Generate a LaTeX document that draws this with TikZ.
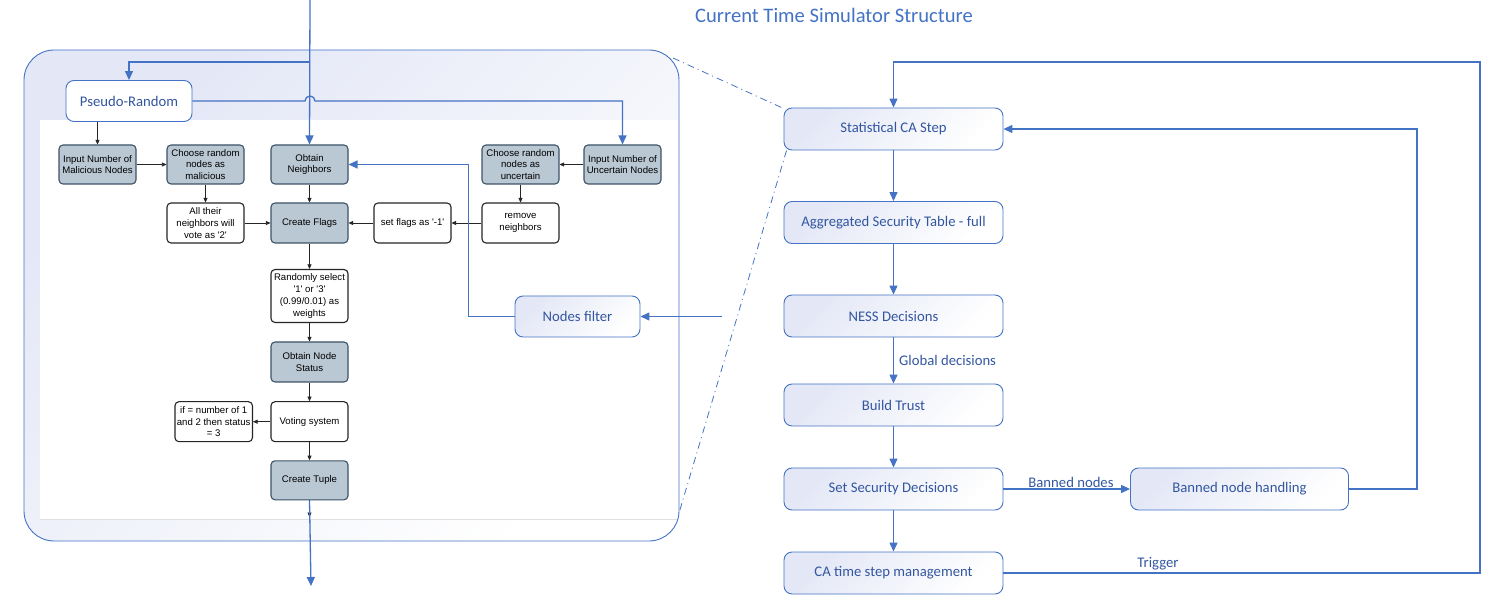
\documentclass[tikz,border=0pt]{standalone}
\usepackage{fontspec}
\usetikzlibrary{arrows.meta}
\newfontfamily\carl{Carlito}
\newfontfamily\lsans{Liberation Sans}
\definecolor{cblue}{HTML}{4472C4}
\definecolor{ctext}{HTML}{3356A0}
\definecolor{lav}{HTML}{E3E7F6}
\definecolor{gfill}{HTML}{BAC8D3}
\definecolor{gdraw}{HTML}{3D5366}
\newcommand{\sq}{\textquotesingle}
\tikzset{
  gnode/.style={draw=gdraw, fill=gfill, rounded corners=4pt, line width=1.1pt,
    minimum width=77pt, minimum height=39pt, align=center, inner sep=1pt,
    font=\lsans\fontsize{9.6}{11.7}\selectfont},
  wnode/.style={gnode, draw=black!85, fill=white},
  bnode/.style={draw=cblue, rounded corners=8pt, line width=0.9pt,
    top color=lav, bottom color=white, shading angle=45,
    minimum width=219pt, minimum height=42pt, text=ctext,
    font=\carl\fontsize{14.7}{17}\selectfont},
  barrow/.style={-{Triangle[length=9pt,width=8pt]}, draw=cblue, line width=1.3pt},
  karrow/.style={-{Triangle[length=4.5pt,width=4pt]}, draw=black!85, line width=0.6pt},
  ddline/.style={draw=cblue, line width=0.8pt, dash pattern=on 7pt off 4pt on 1pt off 4pt},
  lbl/.style={text=ctext, font=\carl\fontsize{14.7}{17}\selectfont, inner sep=0pt},
}
\begin{document}
\begin{tikzpicture}[x=1pt,y=-1pt]
\useasboundingbox (0,0) rectangle (1489,609);
% title
\node[anchor=base, text=cblue, font=\carl\fontsize{20.6}{24}\selectfont, inner sep=0pt] (title) at (834,23) {Current Time Simulator Structure};
% big panel
\shade[top color=lav, bottom color=white, shading angle=45, rounded corners=30pt] (24,50) rectangle (679,541);
\fill[white] (40,120) rectangle (678,519);
\draw[black!12, line width=0.6pt] (40,519) -- (678,519);
\draw[cblue, line width=0.9pt, rounded corners=30pt] (24,50) rectangle (679,541);
% left panel nodes
\node[bnode, minimum width=126pt, minimum height=41pt, top color=white, bottom color=white] (pr) at (129,101) {Pseudo-Random};
\node[gnode] (im) at (97.5,164.5) {Input Number of\\Malicious Nodes};
\node[gnode] (cm) at (205.5,164.5) {Choose random\\nodes as\\malicious};
\node[gnode] (on) at (309.5,164.5) {Obtain\\Neighbors};
\node[gnode] (cu) at (520.5,164.5) {Choose random\\nodes as\\uncertain};
\node[gnode] (iu) at (622.5,164.5) {Input Number of\\Uncertain Nodes};
\node[wnode, minimum height=40pt] (av) at (205.5,223) {All their\\neighbors will\\vote as \sq2\sq};
\node[gnode, minimum height=40pt] (cf) at (309.5,223) {Create Flags};
\node[wnode, minimum height=40pt] (sf) at (412.5,223) {set flags as \sq-1\sq};
\node[wnode, minimum height=40pt] (rn) at (520.5,223) {remove\\neighbors};
\node[wnode, minimum height=53pt] (rs) at (309.5,296) {Randomly select\\\sq1\sq{} or \sq3\sq\\(0.99/0.01) as\\weights};
\node[gnode, minimum height=40pt] (ns) at (309.5,362) {Obtain Node\\Status};
\node[wnode, minimum height=40pt] (vs) at (309.5,421.7) {Voting system};
\node[wnode, minimum height=40pt, minimum width=77.5pt] (ifn) at (213.7,421.7) {if = number of 1\\and 2 then status\\= 3};
\node[gnode, minimum height=39pt] (ct) at (309.5,480.3) {Create Tuple};
\node[bnode, minimum width=125pt, minimum height=41pt] (nf) at (577.5,316.5) {Nodes filter};
% black arrows
\draw[karrow] (pr.south -| im.north) -- (im.north);
\draw[karrow] (im) -- (cm);
\draw[karrow] (cm) -- (av);
\draw[karrow] (av) -- (cf);
\draw[karrow] (on) -- (cf);
\draw[karrow] (sf) -- (cf);
\draw[karrow] (rn) -- (sf);
\draw[karrow] (cu) -- (rn);
\draw[karrow] (iu) -- (cu);
\draw[karrow] (cf) -- (rs);
\draw[karrow] (rs) -- (ns);
\draw[karrow] (ns) -- (vs);
\draw[karrow] (vs) -- (ifn);
\draw[karrow] (vs) -- (ct);
\coordinate (stub) at (309.5,517);
\draw[karrow] (ct) -- (stub);
% blue connectors left
\coordinate (top) at (310,0);
\coordinate (br) at (310,62);
\coordinate (outb) at (311,586);
\draw[barrow] (top) -- (on.north);
\draw[barrow] (br) -| (pr.north);
\draw[barrow] (pr.east) -- (305,101) arc[start angle=180, end angle=360, radius=5] -- (622.5,101) -- (iu.north);
\draw[barrow] (ct.south) -- (outb);
\draw[barrow] (nf.west) -- ++(-46,0) |- (on.east);
% right column
\node[bnode] (sca) at (893.5,129) {Statistical CA Step};
\node[bnode] (ast) at (893.5,222.5) {Aggregated Security Table - full};
\node[bnode] (ness) at (893.5,316) {NESS Decisions};
\node[bnode] (bt) at (893.5,405) {Build Trust};
\node[bnode] (ssd) at (893.5,489) {Set Security Decisions};
\node[bnode] (cat) at (893.5,573) {CA time step management};
\node[bnode, minimum width=218pt] (bnh) at (1239.5,489) {Banned node handling};
\draw[barrow] (sca) -- (ast);
\draw[barrow] (ast) -- (ness);
\draw[barrow] (ness) -- (bt);
\draw[barrow] (bt) -- (ssd);
\draw[barrow] (ssd) -- (cat);
\draw[barrow] (ssd) -- (bnh);
\node[lbl, anchor=west] (gd) at (899,360) {Global decisions};
\node[lbl] (bnl) at (1071,482) {Banned nodes};
\node[lbl] (trg) at (1158,564) {Trigger};
\draw[barrow] (bnh.east) -- ++(68,0) |- (sca.east);
\coordinate (c1) at (1480,573);
\coordinate (c2) at (1480,62);
\draw[barrow] (cat.east) -- (c1) -- (c2) -| (sca.north);
\coordinate (nfin) at (722,316.5);
\draw[barrow] (nfin) -- (nf.east);
% dash-dot
\coordinate (d1) at (673,58);
\coordinate (d2) at (679,513);
\draw[ddline] (d1) -- ([xshift=-2pt]sca.north west);
\draw[ddline] ([xshift=3pt]sca.south west) -- (d2);
\end{tikzpicture}
\end{document}
